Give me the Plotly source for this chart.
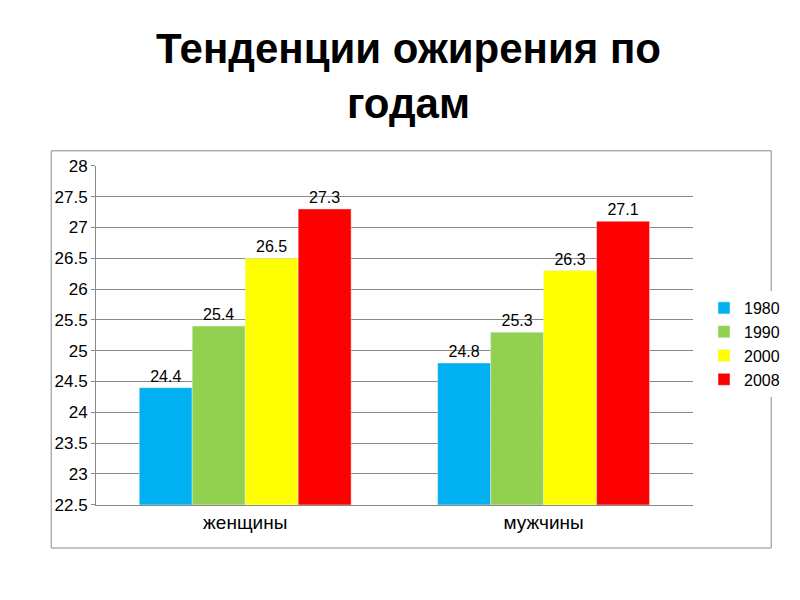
import plotly.graph_objects as go

categories = ["женщины", "мужчины"]
years = ["1980", "1990", "2000", "2008"]
v1980 = [24.4, 24.8]
v1990 = [25.4, 25.3]
v2000 = [26.5, 26.3]
v2008 = [27.3, 27.1]
colors = ["#00B0F0", "#92D050", "#FFFF00", "#FF0000"]

fig = go.Figure()
for name, vals, c in zip(years, [v1980, v1990, v2000, v2008], colors):
    fig.add_trace(go.Bar(name=name, x=categories, y=vals, marker_color=c,
                         text=[str(v) for v in vals], textposition="outside",
                         textfont=dict(size=16, color="black", family="Liberation Sans"),
                         cliponaxis=False))

fig.update_layout(
    width=800, height=600, barmode="group", bargap=0.29, bargroupgap=0,
    paper_bgcolor="white", plot_bgcolor="white",
    margin=dict(l=0, r=0, t=0, b=0, autoexpand=False),
    font=dict(family="Liberation Sans", size=16, color="black"),
    annotations=[dict(text="<b>Тенденции ожирения по<br>годам</b>", x=0.5, y=1 - 15/600,
                      xref="paper", yref="paper", xanchor="center", yanchor="top",
                      showarrow=False, font=dict(size=42, family="Liberation Sans"))],
    xaxis=dict(domain=[0.11, 0.856], showline=True, linecolor="#888", ticks="",
               tickfont=dict(size=19)),
    yaxis=dict(domain=[0.172, 0.737], range=[22.5, 28], dtick=0.5, showgrid=True,
               gridcolor="#888", showline=True, linecolor="#888", ticks="outside",
               ticklen=4, tickcolor="#888", tickfont=dict(size=17), tickformat="~g"),
    legend=dict(x=0.87, y=0.44, xanchor="left", yanchor="middle",
                font=dict(size=16), tracegroupgap=0, itemwidth=30),
    shapes=[dict(type="rect", xref="paper", yref="paper", x0=0.054, x1=0.954,
                 y0=0.1, y1=0.762, line=dict(color="#888", width=1))],
)
fig.write_html("out.html")
